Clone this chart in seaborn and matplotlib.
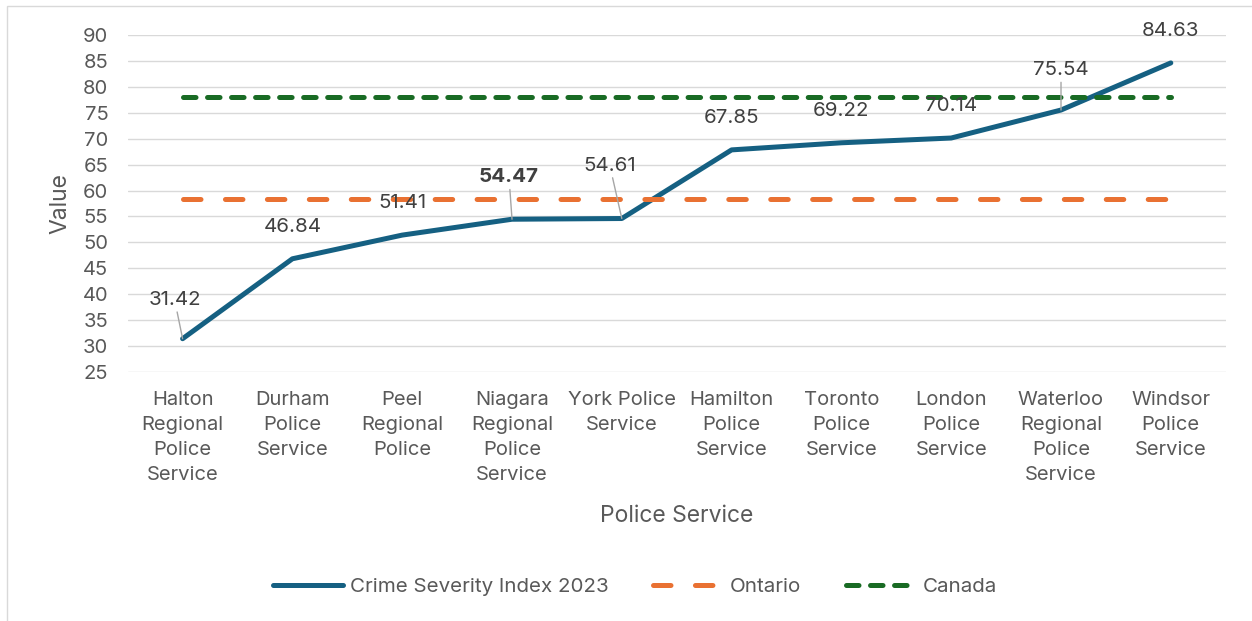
import pandas as pd
import seaborn as sns
import matplotlib.pyplot as plt
from matplotlib.patches import Rectangle

# Datos del gráfico
servicios = [
    "Halton Regional Police Service",
    "Durham Police Service",
    "Peel Regional Police",
    "Niagara Regional Police Service",
    "York Police Service",
    "Hamilton Police Service",
    "Toronto Police Service",
    "London Police Service",
    "Waterloo Regional Police Service",
    "Windsor Police Service",
]
etiquetas_x = [
    "Halton\nRegional\nPolice\nService",
    "Durham\nPolice\nService",
    "Peel\nRegional\nPolice",
    "Niagara\nRegional\nPolice\nService",
    "York Police\nService",
    "Hamilton\nPolice\nService",
    "Toronto\nPolice\nService",
    "London\nPolice\nService",
    "Waterloo\nRegional\nPolice\nService",
    "Windsor\nPolice\nService",
]
csi_2023 = [31.42, 46.84, 51.41, 54.47, 54.61, 67.85, 69.22, 70.14, 75.54, 84.63]
ontario = [58.4] * 10
canada = [78.1] * 10
yticks = list(range(25, 95, 5))

df = pd.DataFrame(
    {
        "servicio": servicios,
        "Crime Severity Index 2023": csi_2023,
        "Ontario": ontario,
        "Canada": canada,
    }
)

sns.set_style("white")
plt.rcParams["font.family"] = ["Inter", "DejaVu Sans"]
plt.rcParams["lines.scale_dashes"] = False

gris = "#595959"
fig = plt.figure(figsize=(12.52, 6.21), dpi=100)
ax = fig.add_axes([0.102, 0.401, 0.877, 0.5425])

sns.lineplot(
    data=df, x="servicio", y="Crime Severity Index 2023", ax=ax, sort=False,
    color="#156082", linewidth=3.6, solid_capstyle="round", solid_joinstyle="round",
    label="Crime Severity Index 2023",
)
sns.lineplot(
    data=df, x="servicio", y="Ontario", ax=ax, sort=False,
    color="#E97132", linewidth=3.6, linestyle=(0, (12.6, 17.6)),
    dash_capstyle="round", label="Ontario",
)
sns.lineplot(
    data=df, x="servicio", y="Canada", ax=ax, sort=False,
    color="#196B24", linewidth=3.6, linestyle=(0, (9, 8.3)),
    dash_capstyle="round", label="Canada",
)

# Etiquetas de datos (algunas movidas con línea guía)
desplazamientos = [(-8, 39), (0, 32), (0, 32), (-3, 42), (-12, 53),
                   (0, 32), (0, 32), (0, 32), (0, 40), (0, 32)]
con_guia = [True, False, False, True, True, False, False, False, True, False]
for i, v in enumerate(csi_2023):
    dx, dy = desplazamientos[i]
    ax.annotate(
        f"{v:.2f}", xy=(i, v), xytext=(dx, dy), textcoords="offset pixels",
        ha="center", va="center", fontsize=14.8, color="#404040",
        fontweight="bold" if i == 3 else "normal",
        arrowprops=dict(arrowstyle="-", color="#A6A6A6", lw=1,
                        shrinkA=0, shrinkB=0) if con_guia[i] else None,
        zorder=5,
    )

ax.set_ylim(25, 90)
ax.set_xlim(-0.5, 9.5)
ax.set_yticks(yticks)
ax.set_xticks(range(len(servicios)))
ax.set_xticklabels(etiquetas_x, linespacing=1.5)
ax.tick_params(axis="both", length=0, labelsize=14.5, labelcolor=gris)
ax.tick_params(axis="x", pad=14)
ax.tick_params(axis="y", pad=14)
ax.grid(axis="y", color="#D9D9D9", linewidth=1)
ax.set_axisbelow(True)
for s in ax.spines.values():
    s.set_visible(False)

ax.set_xlabel("Police Service", fontsize=16.5, color=gris, labelpad=15)
ax.set_ylabel("Value", fontsize=16.5, color=gris, labelpad=8)

ax.legend(
    loc="center", bbox_to_anchor=(0.462, -0.638), ncol=3, frameon=False,
    fontsize=14.8, labelcolor=gris, handlelength=3.4, handletextpad=0.35,
    columnspacing=2.15,
)

# Borde del área del gráfico
fig.patches.append(
    Rectangle((7 / 1252, -0.02), 1.0, (621 - 6) / 621 + 0.02,
              transform=fig.transFigure, fill=False, edgecolor="#D9D9D9",
              linewidth=1)
)

fig.savefig("out.png", dpi=100)
